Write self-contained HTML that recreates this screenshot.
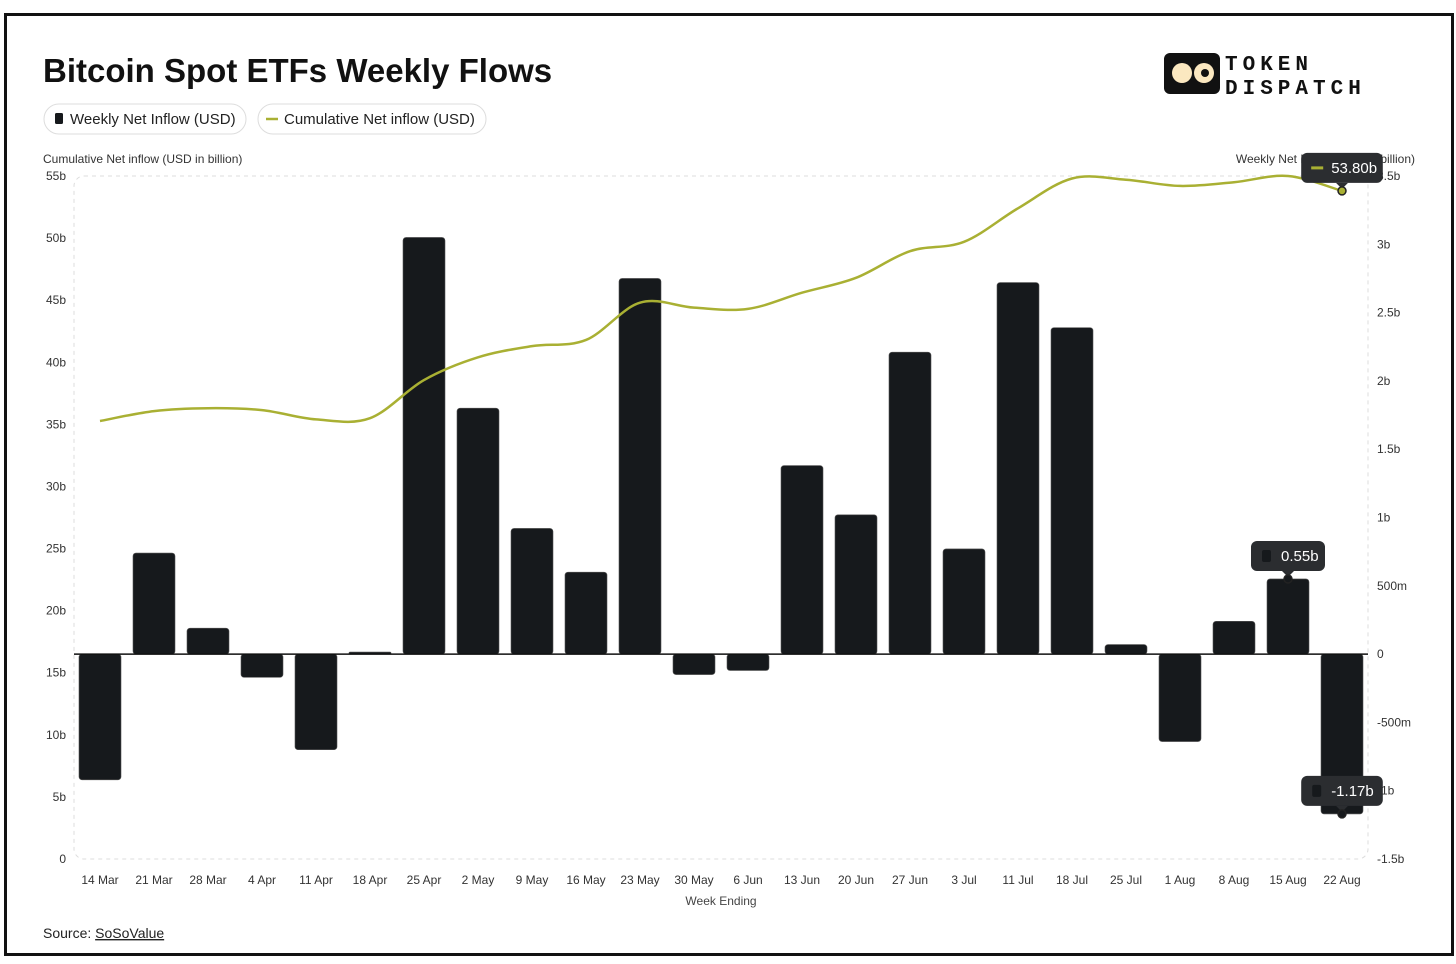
<!DOCTYPE html>
<html><head><meta charset="utf-8"><style>
body{margin:0;width:1456px;height:964px;background:#fff;font-family:"Liberation Sans",sans-serif;overflow:hidden}
#frame{position:absolute;left:4px;top:13px;width:1444px;height:937px;border:3px solid #111;background:#fff}
</style></head><body>
<div id="frame"></div>
<svg width="1456" height="964" style="position:absolute;left:0;top:0" id="svg">
<text x="43" y="82" font-size="33" font-weight="bold" fill="#111">Bitcoin Spot ETFs Weekly Flows</text>
<g>
<rect x="44" y="104" width="202" height="30" rx="15" fill="#fff" stroke="#ddd"/>
<rect x="55" y="113" width="8" height="11" rx="1.5" fill="#16191c"/>
<text x="70" y="124" font-size="15" fill="#222">Weekly Net Inflow (USD)</text></g>
<g>
<rect x="258" y="104" width="228" height="30" rx="15" fill="#fff" stroke="#ddd"/>
<line x1="266" y1="119" x2="278" y2="119" stroke="#a9b033" stroke-width="2.5"/>
<text x="284" y="124" font-size="15" fill="#222">Cumulative Net inflow (USD)</text></g>
<g>
<rect x="1164" y="53" width="56" height="41" rx="6" fill="#111"/>
<circle cx="1182" cy="73" r="10" fill="#fbe8c0"/><circle cx="1204" cy="73" r="10" fill="#fbe8c0"/>
<circle cx="1205" cy="73" r="4" fill="#111"/><line x1="1192" y1="73" x2="1194" y2="73" stroke="#111" stroke-width="2"/>
<text x="1225" y="70" font-size="21" font-weight="bold" font-family="Liberation Mono,monospace" letter-spacing="5" fill="#111">TOKEN</text>
<text x="1225" y="94" font-size="21" font-weight="bold" font-family="Liberation Mono,monospace" letter-spacing="5" fill="#111">DISPATCH</text></g>
<text x="43" y="163" font-size="12" fill="#333">Cumulative Net inflow (USD in billion)</text>
<text x="1415" y="163" font-size="12" fill="#333" text-anchor="end">Weekly Net Inflow (USD in billion)</text>
<rect x="74" y="176" width="1294" height="683" rx="10" fill="none" stroke="#ddd" stroke-dasharray="4,4"/>
<g id="g"></g>
<text x="721" y="905" font-size="12" fill="#444" text-anchor="middle">Week Ending</text>
<text x="43" y="938" font-size="14" fill="#222">Source: <tspan text-decoration="underline">SoSoValue</tspan></text>
</svg>
<script>
const categories=["14 Mar","21 Mar","28 Mar","4 Apr","11 Apr","18 Apr","25 Apr","2 May","9 May","16 May","23 May","30 May","6 Jun","13 Jun","20 Jun","27 Jun","3 Jul","11 Jul","18 Jul","25 Jul","1 Aug","8 Aug","15 Aug","22 Aug"];
const weekly=[-0.92,0.74,0.19,-0.17,-0.70,0.015,3.05,1.80,0.92,0.60,2.75,-0.15,-0.12,1.38,1.02,2.21,0.77,2.72,2.39,0.07,-0.64,0.24,0.55,-1.17];
const cumulative=[35.27,36.07,36.3,36.15,35.4,35.5,38.57,40.4,41.3,41.8,44.8,44.4,44.3,45.6,46.8,48.95,49.7,52.4,54.8,54.7,54.2,54.5,55.0,53.8];
const leftTicks=[0,5,10,15,20,25,30,35,40,45,50,55];
const leftLabels=["0","5b","10b","15b","20b","25b","30b","35b","40b","45b","50b","55b"];
const rightTicks=[-1.5,-1,-0.5,0,0.5,1,1.5,2,2.5,3,3.5];
const rightLabels=["-1.5b","-1b","-500m","0","500m","1b","1.5b","2b","2.5b","3b","3.5b"];
const NS="http://www.w3.org/2000/svg",g=document.getElementById('g');
const X=i=>100+i*54, YL=v=>859-(v-0)*(683/55), YR=v=>859-(v+1.5)*(683/5);
function el(t,a,txt){const e=document.createElementNS(NS,t);for(const k in a)e.setAttribute(k,a[k]);if(txt!=null)e.textContent=txt;g.appendChild(e);return e;}
leftTicks.forEach((v,i)=>{const t=el('text',{x:66,y:YL(v)+4,'font-size':12,fill:'#333','text-anchor':'end'},leftLabels[i]);

});
rightTicks.forEach((v,i)=>{const t=el('text',{x:1377,y:YR(v)+4,'font-size':12,fill:'#333'},rightLabels[i]);

});
categories.forEach((c,i)=>{const t=el('text',{x:X(i),y:884,'font-size':12,fill:'#333','text-anchor':'middle'},c);

});
weekly.forEach((v,i)=>{const y0=YR(0),y1=YR(v);const top=Math.min(y0,y1),h=Math.max(Math.abs(y1-y0),1);
const r=el('rect',{x:X(i)-21,y:top,width:42,height:h,rx:Math.min(3,h/2),fill:'#16191c',stroke:'#555','stroke-width':0.6});

});
const z=el('line',{x1:74,x2:1368,y1:YR(0),y2:YR(0),stroke:'#111','stroke-width':1.5});


const pts=cumulative.map((v,i)=>[X(i),YL(v)]);
let d='M'+pts[0].join(',');
for(let i=0;i<pts.length-1;i++){const p0=pts[i-1]||pts[i],p1=pts[i],p2=pts[i+1],p3=pts[i+2]||p2;
d+=` C${p1[0]+(p2[0]-p0[0])/6},${p1[1]+(p2[1]-p0[1])/6} ${p2[0]-(p3[0]-p1[0])/6},${p2[1]-(p3[1]-p1[1])/6} ${p2[0]},${p2[1]}`;}
const ln=el('path',{d:d,fill:'none',stroke:'#a9b033','stroke-width':2.5});


function tip(cx,py,label,line,name){const w=label.length*7.6+36;const x=cx-w/2,y=py-38;
const gg=document.createElementNS(NS,'g');g.appendChild(gg);


const a=(t,at,tx)=>{const e=document.createElementNS(NS,t);for(const k in at)e.setAttribute(k,at[k]);if(tx!=null)e.textContent=tx;gg.appendChild(e);};
a('rect',{x:x,y:y,width:w,height:30,rx:6,fill:'#2b2d30'});
a('path',{d:`M${cx-6},${y+30} L${cx},${y+36} L${cx+6},${y+30}Z`,fill:'#2b2d30'});
if(line)a('line',{x1:x+10,x2:x+22,y1:y+15,y2:y+15,stroke:'#a9b033','stroke-width':3});
else a('rect',{x:x+11,y:y+9,width:9,height:12,rx:2,fill:'#16191c'});
a('text',{x:x+30,y:y+20,'font-size':15,fill:'#fff'},label);
a('circle',{cx:cx,cy:py,r:4,fill:line?'#a9b033':'#16191c',stroke:'#222','stroke-width':1.5});}
tip(X(22),YR(weekly[22]),weekly[22].toFixed(2)+'b',false,'tooltip-weekly-15aug');
tip(X(23),YR(weekly[23]),weekly[23].toFixed(2)+'b',false,'tooltip-weekly-22aug');
tip(X(23),YL(cumulative[23]),cumulative[23].toFixed(2)+'b',true,'tooltip-cumulative');
</script>
</body></html>
